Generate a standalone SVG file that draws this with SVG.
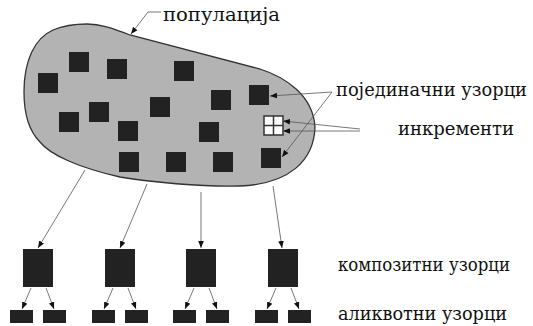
<svg xmlns="http://www.w3.org/2000/svg" width="533" height="326" viewBox="0 0 533 326">
<defs>
<marker id="ah" viewBox="0 0 10 10" refX="10" refY="5" markerWidth="7" markerHeight="7" markerUnits="userSpaceOnUse" orient="auto">
<path d="M0,1 L10,5 L0,9 Z" fill="#111"/>
</marker>
<style>
.lbl{font-family:"DejaVu Serif","Liberation Serif",serif;font-size:18.5px;fill:#111}
.sq{fill:#222}
.con{stroke:#555;stroke-width:0.8;fill:none;marker-end:url(#ah)}
</style>
</defs>
<g id="population">
<path d="M87,24 C100,24 112,28 130,35 L260,69 C285,77 313,95 315,127 C314,160 290,184 240,186 C200,187 150,182 120,177 C80,168 50,155 40,142 C28,130 24,110 24,92 C24,60 35,38 53,30 C65,25 75,24 87,24 Z" fill="#b3b3b3" stroke="#333" stroke-width="1.3"/>
</g>
<g id="samples">
<rect class="sq" x="38" y="73" width="20" height="20"/>
<rect class="sq" x="69" y="52" width="20" height="20"/>
<rect class="sq" x="107" y="59" width="20" height="20"/>
<rect class="sq" x="174" y="61" width="20" height="20"/>
<rect class="sq" x="211" y="90" width="20" height="20"/>
<rect class="sq" x="249" y="85" width="20" height="20"/>
<rect class="sq" x="59" y="112" width="20" height="20"/>
<rect class="sq" x="89" y="102" width="20" height="20"/>
<rect class="sq" x="150" y="97" width="20" height="20"/>
<rect class="sq" x="118" y="121" width="20" height="20"/>
<rect class="sq" x="199" y="122" width="20" height="20"/>
<rect class="sq" x="119" y="152" width="20" height="20"/>
<rect class="sq" x="166" y="152" width="20" height="20"/>
<rect class="sq" x="213" y="152" width="20" height="20"/>
<rect class="sq" x="261" y="148" width="20" height="20"/>
</g>
<g id="increments">
<rect x="264" y="116" width="19" height="19" fill="#fff" stroke="#333" stroke-width="1.5"/>
<path d="M273.5,116 V135 M264,125.5 H283" stroke="#333" stroke-width="1.5"/>
</g>
<g id="composites">
<rect class="sq" x="23" y="249" width="30" height="38"/>
<rect class="sq" x="105" y="249" width="30" height="38"/>
<rect class="sq" x="186" y="249" width="30" height="38"/>
<rect class="sq" x="268" y="249" width="30" height="38"/>
</g>
<g id="aliquots">
<rect class="sq" x="10" y="310" width="23" height="13"/>
<rect class="sq" x="43" y="310" width="23" height="13"/>
<rect class="sq" x="92" y="310" width="23" height="13"/>
<rect class="sq" x="125" y="310" width="23" height="13"/>
<rect class="sq" x="173" y="310" width="23" height="13"/>
<rect class="sq" x="206" y="310" width="23" height="13"/>
<rect class="sq" x="255" y="310" width="23" height="13"/>
<rect class="sq" x="288" y="310" width="23" height="13"/>
</g>
<g id="connectors">
<polyline class="con" points="161,12 148,12 131,34"/>
<line class="con" x1="332" y1="92" x2="270" y2="96"/>
<line class="con" x1="332" y1="92" x2="282" y2="157"/>
<line class="con" x1="360" y1="129" x2="283" y2="121"/>
<line class="con" x1="360" y1="131" x2="283" y2="131"/>
<line class="con" x1="85" y1="170" x2="38" y2="248"/>
<line class="con" x1="147" y1="184" x2="120" y2="248"/>
<line class="con" x1="201" y1="192" x2="201" y2="248"/>
<line class="con" x1="273" y1="186" x2="282" y2="248"/>
<line class="con" x1="31" y1="288" x2="22" y2="309"/>
<line class="con" x1="46" y1="288" x2="54" y2="309"/>
<line class="con" x1="113" y1="288" x2="104" y2="309"/>
<line class="con" x1="128" y1="288" x2="136" y2="309"/>
<line class="con" x1="194" y1="288" x2="185" y2="309"/>
<line class="con" x1="209" y1="288" x2="217" y2="309"/>
<line class="con" x1="276" y1="288" x2="267" y2="309"/>
<line class="con" x1="291" y1="288" x2="299" y2="309"/>
</g>
<g id="labels">
<text class="lbl" x="163" y="21" textLength="117" lengthAdjust="spacingAndGlyphs">популација</text>
<text class="lbl" x="336" y="96" textLength="191" lengthAdjust="spacingAndGlyphs">појединачни узорци</text>
<text class="lbl" x="398" y="135" textLength="116" lengthAdjust="spacingAndGlyphs">инкременти</text>
<text class="lbl" x="338" y="271" textLength="172" lengthAdjust="spacingAndGlyphs">композитни узорци</text>
<text class="lbl" x="338" y="320" textLength="169" lengthAdjust="spacingAndGlyphs">аликвотни узорци</text>
</g>
</svg>
